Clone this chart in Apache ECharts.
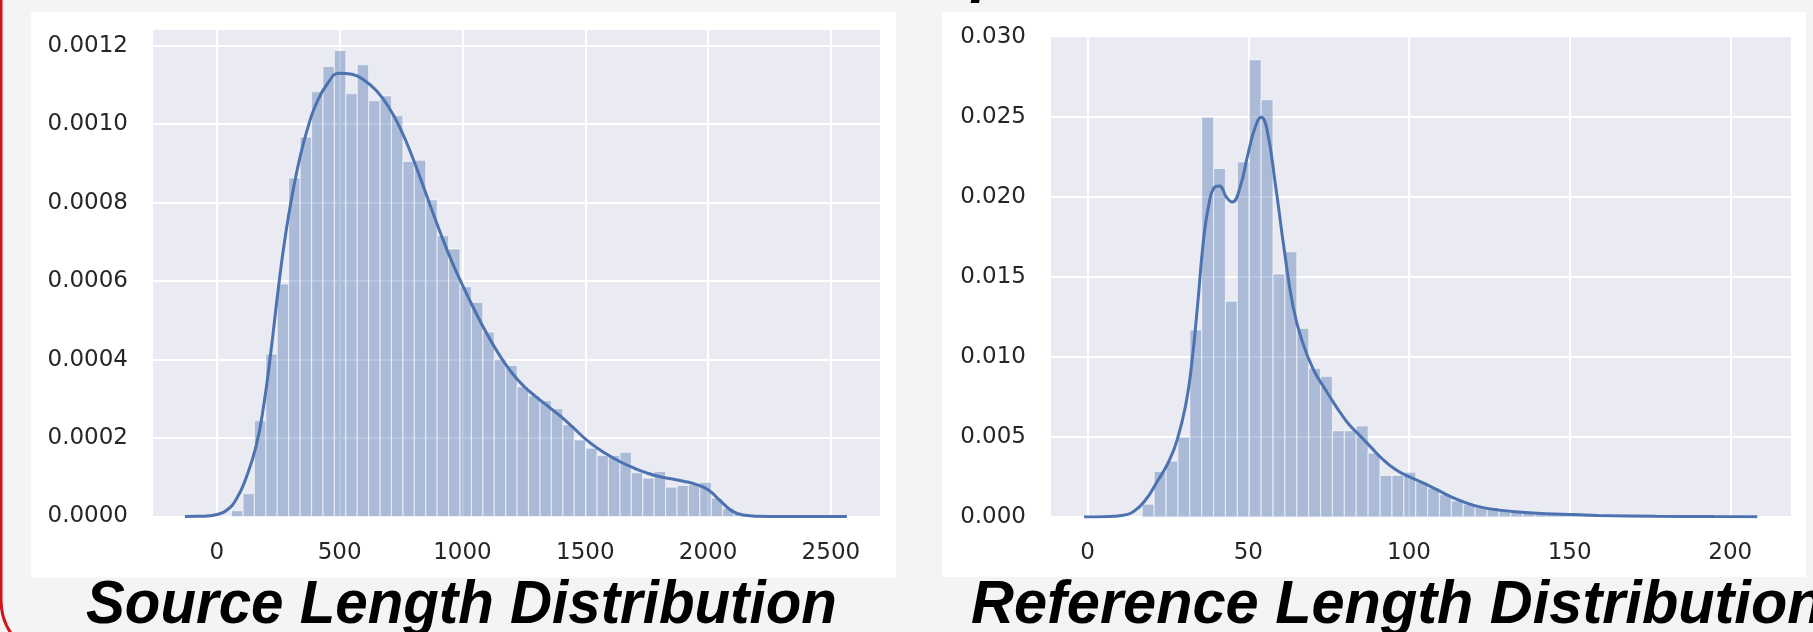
<!DOCTYPE html>
<html><head><meta charset="utf-8">
<script src="https://cdn.jsdelivr.net/npm/echarts@6/dist/echarts.min.js"></script>
<style>html,body{margin:0;padding:0;background:#f4f4f4;}#c{width:1813px;height:632px;}</style>
</head><body><div id="c"></div>
<script>
// ---- Source length distribution (left) ----
const srcBinEdges = [60, 106.5, 153, 199.5, 246, 292.5, 339, 385.5, 432, 478.5, 525, 571.5, 618, 664.5, 711, 757.5, 804, 850.5, 897, 943.5, 990, 1036.5, 1083, 1129.5, 1176, 1222.5, 1269, 1315.5, 1362, 1408.5, 1455, 1501.5, 1548, 1594.5, 1641, 1687.5, 1734, 1780.5, 1827, 1873.5, 1920, 1966.5, 2013, 2059.5, 2106, 2152.5];
const srcDensity = [0.000015, 0.000058, 0.000244, 0.000414, 0.000593, 0.000863, 0.000967, 0.001083, 0.001147, 0.001188, 0.001078, 0.001152, 0.00106, 0.001072, 0.001022, 0.000905, 0.000908, 0.000807, 0.000716, 0.000682, 0.000586, 0.000546, 0.00047, 0.000401, 0.000385, 0.000331, 0.000308, 0.000295, 0.000275, 0.000234, 0.000195, 0.000174, 0.000156, 0.000156, 0.000164, 0.000112, 0.000098, 0.000115, 0.000075, 0.000079, 0.000081, 0.000087, 0.000047, 0.000021, 0.000007];
const srcKdeX = [-130, -80, -40, 0, 40, 80, 120, 160, 190, 220, 250, 280, 310, 340, 370, 400, 450, 500, 550, 600, 650, 700, 750, 800, 850, 900, 950, 1000, 1050, 1100, 1150, 1200, 1250, 1300, 1350, 1400, 1450, 1500, 1550, 1600, 1650, 1700, 1750, 1800, 1850, 1900, 1950, 2000, 2050, 2100, 2150, 2200, 2300, 2565];
const srcKdeY = [0, 0.0000004, 0.0000015, 0.000005, 0.000016, 0.000045, 0.0001, 0.00018, 0.00028, 0.00042, 0.00058, 0.00072, 0.00083, 0.00092, 0.00099, 0.001045, 0.001103, 0.00113, 0.001127, 0.001112, 0.001085, 0.001043, 0.000985, 0.00091, 0.000825, 0.00074, 0.00066, 0.00059, 0.000525, 0.000465, 0.000412, 0.000367, 0.000332, 0.000305, 0.00028, 0.000255, 0.000227, 0.000198, 0.000174, 0.000154, 0.000137, 0.000123, 0.000111, 0.000102, 0.000096, 0.00009, 0.000082, 0.000068, 0.00004, 0.000013, 0.000003, 0.0000008, 0.0000002, 0];

// ---- Reference length distribution (right) ----
const refBinEdges = [17, 20.7, 24.4, 28.1, 31.8, 35.5, 39.2, 42.9, 46.6, 50.3, 54.0, 57.7, 61.4, 65.1, 68.8, 72.5, 76.2, 79.9, 83.6, 87.3, 91.0, 94.7, 98.4, 102.1, 105.8, 109.5, 113.2, 116.9, 120.6, 124.3, 128.0, 131.7, 135.4, 139.1, 142.8, 146.5, 150.2, 153.9, 157.6, 161.3, 165.0, 168.7, 172.4, 176.1, 179.8, 183.5, 187.2, 190.9, 194.6, 198.3, 202.0];
const refDensity = [0.0008, 0.00285, 0.0035, 0.005, 0.0117, 0.025, 0.0218, 0.0135, 0.0222, 0.0286, 0.0261, 0.0152, 0.0166, 0.0118, 0.0093, 0.0088, 0.0054, 0.0054, 0.0057, 0.004, 0.0026, 0.0026, 0.0028, 0.0022, 0.0018, 0.0014, 0.001, 0.0008, 0.00065, 0.00055, 0.00045, 0.0004, 0.00032, 0.00028, 0.00022, 0.0002, 0.00015, 0.00012, 0.0001, 0.00008, 0.00006, 0.00005, 0.00004, 0.00003, 0.00003, 0.00002, 0.00002, 0.00001, 0.00001, 0.00001];
const refKdeX = [-1.1, 5, 10.7, 14.3, 18, 21.6, 25.2, 27.9, 30.6, 32.4, 34.2, 36, 37.6, 39.4, 41, 43.2, 45, 47.4, 49.9, 52.2, 54, 55.8, 58.5, 61.2, 63.9, 66.6, 70.2, 73.9, 77.5, 81.1, 84.7, 88.3, 92, 95.6, 99.1, 103.7, 108.2, 112.7, 117.2, 122.7, 128.1, 135.3, 142.5, 151.5, 158.7, 176.8, 194.9, 208.4];
const refKdeY = [0, 0.00002, 0.0001, 0.00035, 0.00106, 0.0022, 0.00345, 0.00484, 0.0071, 0.0096, 0.0132, 0.0172, 0.0194, 0.0206, 0.0207, 0.02, 0.0197, 0.0206, 0.0227, 0.0244, 0.025, 0.02425, 0.0207, 0.0167, 0.0132, 0.0111, 0.00925, 0.008, 0.00686, 0.00585, 0.0051, 0.00434, 0.00358, 0.003, 0.0026, 0.0022, 0.00176, 0.0013, 0.00093, 0.0006, 0.00043, 0.0003, 0.0002, 0.00015, 0.0001, 0.00005, 0.00003, 0.00002];

const titles = ['Source Length Distribution', 'Reference Length Distribution'];

const BAR_FILL = 'rgba(76,114,176,0.4)';
const LINE_COLOR = '#4c72b0';
const LABEL = {color: '#262626', fontSize: 23, fontFamily: 'DejaVu Sans'};

function histData(edges, dens) {
  return dens.map((d, i) => [edges[i], edges[i + 1], d]);
}
function kdeData(xs, ys) { return xs.map((x, i) => [x, ys[i]]); }

function renderBar(params, api) {
  const p0 = api.coord([api.value(0), api.value(2)]);
  const p1 = api.coord([api.value(1), 0]);
  return {
    type: 'rect',
    shape: {x: p0[0], y: p0[1], width: p1[0] - p0[0], height: p1[1] - p0[1]},
    style: {fill: BAR_FILL, stroke: 'rgba(255,255,255,0.55)', lineWidth: 1.2}
  };
}

function xAxis(gi, min, max) {
  return {
    type: 'value', gridIndex: gi, min: min, max: max, splitNumber: 5,
    axisLine: {show: false}, axisTick: {show: false},
    axisLabel: Object.assign({margin: 25, showMinLabel: false, showMaxLabel: false, formatter: v => String(v)}, LABEL),
    splitLine: {show: true, showMinLine: false, showMaxLine: false, lineStyle: {color: '#ffffff', width: 2}}
  };
}
function yAxis(gi, max, interval, digits, showMax) {
  return {
    type: 'value', gridIndex: gi, min: 0, max: max, interval: interval,
    axisLine: {show: false}, axisTick: {show: false},
    axisLabel: Object.assign({margin: 25, showMaxLabel: showMax, formatter: v => v.toFixed(digits)}, LABEL),
    splitLine: {show: true, showMaxLine: false, lineStyle: {color: '#ffffff', width: 2}}
  };
}

const chart = echarts.init(document.getElementById('c'), null, {renderer: 'canvas'});
chart.setOption({
  backgroundColor: '#f4f4f4',
  animation: false,
  grid: [
    {left: 153, top: 30, width: 727, height: 486.5, show: true, backgroundColor: '#eaeaf2', borderWidth: 0},
    {left: 1051, top: 37.3, width: 740, height: 479.7, show: true, backgroundColor: '#eaeaf2', borderWidth: 0}
  ],
  xAxis: [xAxis(0, -260, 2700), xAxis(1, -11.4, 218.9)],
  yAxis: [yAxis(0, 0.00124, 0.0002, 4, false), yAxis(1, 0.03, 0.005, 3, true)],
  graphic: [
    {type: 'rect', z: -100, shape: {x: 31, y: 12, width: 865, height: 565.5}, style: {fill: '#ffffff'}},
    {type: 'rect', z: -100, shape: {x: 942, y: 12, width: 864, height: 565}, style: {fill: '#ffffff'}},
    {type: 'rect', z: 100, shape: {x: 1, y: -100, width: 2000, height: 760, r: 60}, style: {fill: 'transparent', stroke: '#d0161c', lineWidth: 3}},
    {type: 'text', z: 100, x: 86, y: 606, scaleX: 0.955, style: {text: titles[0], font: 'italic bold 61px "Liberation Sans"', fill: '#000', textAlign: 'left', textVerticalAlign: 'middle'}},
    {type: 'text', z: 100, x: 971, y: 606, scaleX: 0.975, style: {text: titles[1], font: 'italic bold 61px "Liberation Sans"', fill: '#000', textAlign: 'left', textVerticalAlign: 'middle'}},
    {type: 'text', z: 100, x: 972, y: -27, style: {text: 'p', font: 'italic bold 61px "Liberation Sans"', fill: '#000', textAlign: 'left', textVerticalAlign: 'middle'}}
  ],
  series: [
    {type: 'custom', xAxisIndex: 0, yAxisIndex: 0, renderItem: renderBar, encode: {x: [0, 1], y: 2}, data: histData(srcBinEdges, srcDensity), z: 2},
    {type: 'line', xAxisIndex: 0, yAxisIndex: 0, data: kdeData(srcKdeX, srcKdeY), showSymbol: false, smooth: 0.5, lineStyle: {color: LINE_COLOR, width: 3}, z: 3},
    {type: 'custom', xAxisIndex: 1, yAxisIndex: 1, renderItem: renderBar, encode: {x: [0, 1], y: 2}, data: histData(refBinEdges, refDensity), z: 2},
    {type: 'line', xAxisIndex: 1, yAxisIndex: 1, data: kdeData(refKdeX, refKdeY), showSymbol: false, smooth: 0.5, lineStyle: {color: LINE_COLOR, width: 3}, z: 3}
  ]
});
</script>
</body></html>
